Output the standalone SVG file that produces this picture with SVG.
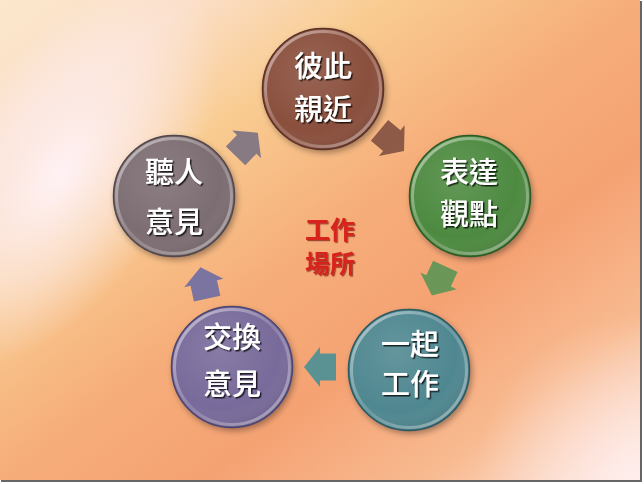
<svg xmlns="http://www.w3.org/2000/svg" width="644" height="484" viewBox="0 0 644 484">
<defs>
<style>
.t{font-family:"Noto Sans CJK TC","Noto Sans CJK JP",sans-serif;font-size:29px;font-weight:500;fill:#ffffff;text-anchor:middle;filter:url(#ts)}
.ct{font-family:"Noto Sans CJK TC","Noto Sans CJK JP",sans-serif;font-size:25px;font-weight:700;fill:#d8241e;text-anchor:middle;filter:url(#cs)}
.body{filter:url(#ns)}
.ov{fill:url(#shade)}
.rim{fill:none;stroke:url(#rimg);stroke-width:3}
.edge{fill:none;stroke-width:1.5}
</style>
<linearGradient id="bg" x1="0" y1="0" x2="1" y2="1">
<stop offset="0" stop-color="#fbe7cc"/>
<stop offset="0.15" stop-color="#fbdfc8"/>
<stop offset="0.3" stop-color="#f9cc92"/>
<stop offset="0.5" stop-color="#f6ad79"/>
<stop offset="0.66" stop-color="#f5a273"/>
<stop offset="0.83" stop-color="#f8ba90"/>
<stop offset="1" stop-color="#fde7de"/>
</linearGradient>
<radialGradient id="glow1" cx="0" cy="0" r="150" gradientUnits="userSpaceOnUse" gradientTransform="translate(60,175) rotate(-55) scale(1.5,0.75)">
<stop offset="0" stop-color="#fff3f9" stop-opacity="0.95"/>
<stop offset="0.55" stop-color="#fdeef2" stop-opacity="0.55"/>
<stop offset="1" stop-color="#fdeef2" stop-opacity="0"/>
</radialGradient>
<radialGradient id="glow2" cx="644" cy="484" r="170" gradientUnits="userSpaceOnUse">
<stop offset="0" stop-color="#fff0f2" stop-opacity="0.8"/>
<stop offset="1" stop-color="#fff0f2" stop-opacity="0"/>
</radialGradient>
<radialGradient id="shade" cx="0.4" cy="0.35" r="0.7">
<stop offset="0" stop-color="#ffffff" stop-opacity="0.12"/>
<stop offset="0.7" stop-color="#ffffff" stop-opacity="0"/>
<stop offset="1" stop-color="#000000" stop-opacity="0.15"/>
</radialGradient>
<linearGradient id="rimg" x1="0" y1="0" x2="1" y2="1">
<stop offset="0" stop-color="#ffffff" stop-opacity="0.55"/>
<stop offset="0.5" stop-color="#ffffff" stop-opacity="0.15"/>
<stop offset="1" stop-color="#ffffff" stop-opacity="0.45"/>
</linearGradient>
<filter id="ns" x="-20%" y="-20%" width="150%" height="150%">
<feDropShadow dx="2" dy="3" stdDeviation="3" flood-color="#000" flood-opacity="0.35"/>
</filter>
<filter id="ts" x="-10%" y="-20%" width="130%" height="150%">
<feDropShadow dx="1.5" dy="1.5" stdDeviation="0.7" flood-color="#000" flood-opacity="0.75"/>
</filter>
<filter id="cs" x="-10%" y="-20%" width="130%" height="150%">
<feDropShadow dx="1.2" dy="1.2" stdDeviation="0.6" flood-color="#6a0000" flood-opacity="0.6"/>
</filter>
<path id="arr" d="M-15,-13.5 L1,-13.5 L1,-20 L17,0 L1,20 L1,13.5 L-15,13.5 Z"/>
</defs>

<rect x="0" y="0" width="644" height="484" fill="#ffffff"/>
<rect x="1" y="1" width="641" height="481" fill="#666666"/>
<rect x="0" y="0" width="640" height="480" fill="url(#bg)"/>
<rect x="0" y="0" width="640" height="480" fill="url(#glow1)"/>
<rect x="0" y="0" width="640" height="480" fill="url(#glow2)"/>

<g id="connectors">
<use href="#arr" fill="#8d5a48" transform="translate(391,140) rotate(40)"/>
<use href="#arr" fill="#6a9658" transform="translate(439,280) rotate(115)"/>
<use href="#arr" fill="#5a9294" transform="translate(321,367) rotate(180)"/>
<use href="#arr" fill="#7b73a0" transform="translate(204,284) rotate(-102)"/>
<use href="#arr" fill="#877a82" transform="translate(246,145) rotate(-46)"/>
</g>

<g id="node-top">
<circle class="body" cx="323" cy="89" r="61" fill="#8a4f3e"/>
<circle class="ov" cx="323" cy="89" r="61"/>
<circle class="rim" cx="323" cy="89" r="57.5"/>
<circle class="edge" cx="323" cy="89" r="60.5" stroke="#5e3126"/>
<text class="t" x="323" y="77">彼此</text>
<text class="t" x="323" y="120">親近</text>
</g>

<g id="node-right">
<circle class="body" cx="470" cy="196" r="61" fill="#4e8a40"/>
<circle class="ov" cx="470" cy="196" r="61"/>
<circle class="rim" cx="470" cy="196" r="57.5"/>
<circle class="edge" cx="470" cy="196" r="60.5" stroke="#2f5a26"/>
<text class="t" x="469" y="183">表達</text>
<text class="t" x="469" y="225">觀點</text>
</g>

<g id="node-bottom-right">
<circle class="body" cx="409" cy="370" r="61" fill="#4f8790"/>
<circle class="ov" cx="409" cy="370" r="61"/>
<circle class="rim" cx="409" cy="370" r="57.5"/>
<circle class="edge" cx="409" cy="370" r="60.5" stroke="#2f5960"/>
<text class="t" x="410" y="355">一起</text>
<text class="t" x="410" y="395">工作</text>
</g>

<g id="node-bottom-left">
<circle class="body" cx="232" cy="367" r="61" fill="#786a9a"/>
<circle class="ov" cx="232" cy="367" r="61"/>
<circle class="rim" cx="232" cy="367" r="57.5"/>
<circle class="edge" cx="232" cy="367" r="60.5" stroke="#4e4470"/>
<text class="t" x="232" y="348">交換</text>
<text class="t" x="232" y="395">意見</text>
</g>

<g id="node-left">
<circle class="body" cx="174" cy="196" r="61" fill="#7b6d72"/>
<circle class="ov" cx="174" cy="196" r="61"/>
<circle class="rim" cx="174" cy="196" r="57.5"/>
<circle class="edge" cx="174" cy="196" r="60.5" stroke="#53474b"/>
<text class="t" x="174" y="183">聽人</text>
<text class="t" x="174" y="233">意見</text>
</g>

<g id="center-label">
<text class="ct" x="330" y="239">工作</text>
<text class="ct" x="330" y="273">場所</text>
</g>
</svg>
